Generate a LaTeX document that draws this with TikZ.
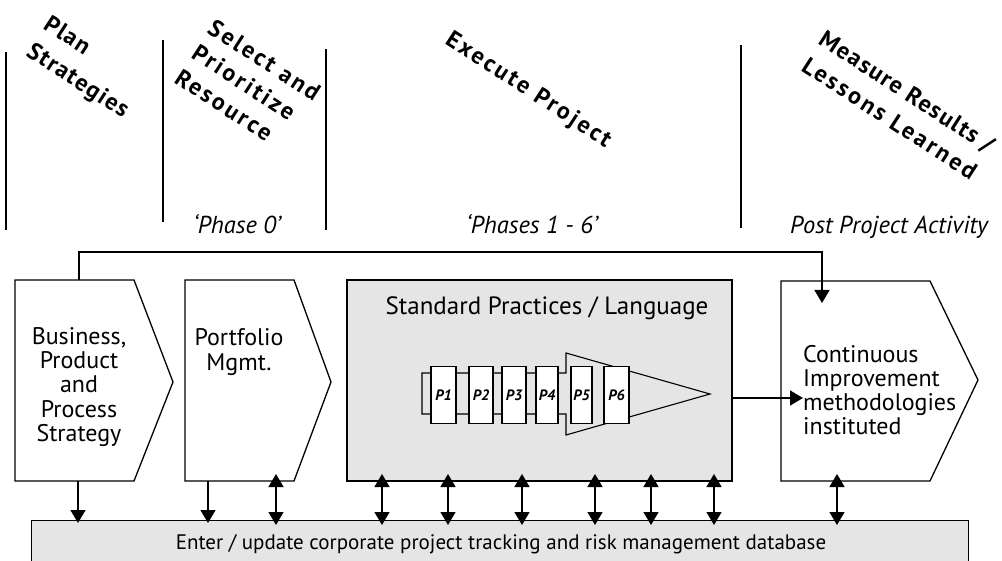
\documentclass[tikz,border=0pt]{standalone}
\usepackage{fontspec}
\setmainfont{PT Sans}
\newfontfamily\headfont{PT Sans}[LetterSpace=6]
\newfontfamily\wideheadfont{PT Sans}[LetterSpace=11]
\usetikzlibrary{arrows.meta}
\definecolor{panel}{HTML}{E5E5E5}
\tikzset{
  heading/.style={font=\headfont\bfseries\fontsize{24}{28}\selectfont, rotate=-33, anchor=base west, inner sep=0pt},
  wideheading/.style={heading, font=\wideheadfont\bfseries\fontsize{24}{28}\selectfont},
  phase/.style={font=\itshape\fontsize{24.5}{28}\selectfont, anchor=base, inner sep=0pt},
  hline/.style={line width=1.8pt},
  box/.style={draw, line width=1.3pt, fill=white},
  greybox/.style={draw, line width=1.3pt, fill=panel},
  boxtext/.style={font=\fontsize{24}{24.2}\selectfont, align=center, inner sep=0pt},
  pbox/.style={draw, line width=1.1pt, fill=white, minimum height=57pt, inner sep=0pt, font=\bfseries\itshape\fontsize{15}{17}\selectfont},
  tipshape/.style={},
  conn/.style={line width=1.4pt, -{Triangle[width=15pt,length=13pt]}},
  dconn/.style={line width=1.4pt, {Triangle[width=15pt,length=13pt]}-{Triangle[width=15pt,length=13pt]}},
}
\begin{document}
\begin{tikzpicture}[x=1pt,y=-1pt]
\useasboundingbox (0,0) rectangle (1002,561);
\clip (0,0) rectangle (1002,561);

% header separators
\draw[hline] (6,52) -- (6,230);
\draw[hline] (163,40) -- (163,222);
\draw[hline] (326,49) -- (326,230);
\draw[hline] (741,45) -- (741,228);

% rotated headings
\node[heading] (h1a) at (42,28) {Plan};
\node[heading] (h1b) at (25,55) {Strategies};
\node[wideheading] (h2a) at (206,32) {Select and};
\node[wideheading] (h2b) at (190,57) {Prioritize};
\node[wideheading] (h2c) at (173,82) {Resource};
\node[wideheading] (h3a) at (444,43) {Execute Project};
\node[heading] (h4a) at (817,43) {Measure Results /};
\node[wideheading] (h4b) at (800,70) {Lessons Learned};

% phase labels
\node[phase] (ph0) at (237,234) {‘Phase 0’};
\node[phase] (ph16) at (532,234) {‘Phases 1 - 6’};
\node[phase] (ppa) at (889,234) {Post Project Activity};

% main boxes
\draw[box] (15,280) -- (134,280) -- (173,382) -- (134,481) -- (15,481) -- cycle;
\node[boxtext] (b1) at (79,387) {Business,\\Product\\and\\Process\\Strategy};

\draw[box] (185,280) -- (294,280) -- (331,382) -- (294,481) -- (185,481) -- cycle;
\node[boxtext] (b2) at (239,352) {Portfolio\\Mgmt.};

\node[greybox, minimum width=385pt, minimum height=201pt, inner sep=0pt] (sp) at (539.5,380.5) {};
\node[font=\fontsize{25}{28}\selectfont, anchor=base, inner sep=0pt] (spt) at (547,315) {Standard Practices / Language};

\draw[box] (781,281) -- (930,281) -- (978,380) -- (930,481) -- (781,481) -- cycle;
\node[boxtext, align=left, anchor=west] (b4) at (803,390) {Continuous\\Improvement\\methodologies\\instituted};

% phase band / arrow
\draw[line width=1.1pt, fill=panel] (422,373) -- (566,373) -- (566,353) -- (710,394) -- (566,435) -- (566,414) -- (422,414) -- cycle;
\node[pbox, minimum width=25pt] (p1) at (443.5,395) {P1};
\node[pbox, minimum width=24pt] (p2) at (481,395) {P2};
\node[pbox, minimum width=24pt] (p3) at (514,395) {P3};
\node[pbox, minimum width=22pt] (p4) at (547,395) {P4};
\node[pbox, minimum width=21pt] (p5) at (581.5,395) {P5};
\node[pbox, minimum width=25pt] (p6) at (616.5,395) {P6};

% database bar
\node[greybox, minimum width=937pt, minimum height=50pt, inner sep=0pt, anchor=north west] (db) at (31,520) {};
\node[font=\fontsize{21}{24}\selectfont, anchor=base, inner sep=0pt] (dbt) at (501,549) {Enter / update corporate project tracking and risk management database};

% coordinates for connectors
\coordinate (fbS) at (79,280);
\coordinate (fbA) at (79,252);
\coordinate (fbB) at (822,252);
\coordinate (fbE) at (822,303);
\coordinate (spR) at (732,398);
\coordinate (b4in) at (803,398);

\draw[conn] (fbS) -- (fbA) -- (fbB) -- (fbE);
\draw[conn] (spR) -- (b4in);

\foreach \x/\n in {78/a, 208/b} {
  \coordinate (top\n) at (\x,481);
  \coordinate (bot\n) at (\x,523);
  \draw[conn] (top\n) -- (bot\n);
}
\foreach \x/\n in {276/c, 382/d, 448/e, 522/f, 595/g, 651/h, 714/i, 837/j} {
  \coordinate (top\n) at (\x,474);
  \coordinate (bot\n) at (\x,525);
  \draw[dconn] (top\n) -- (bot\n);
}
\end{tikzpicture}
\end{document}
